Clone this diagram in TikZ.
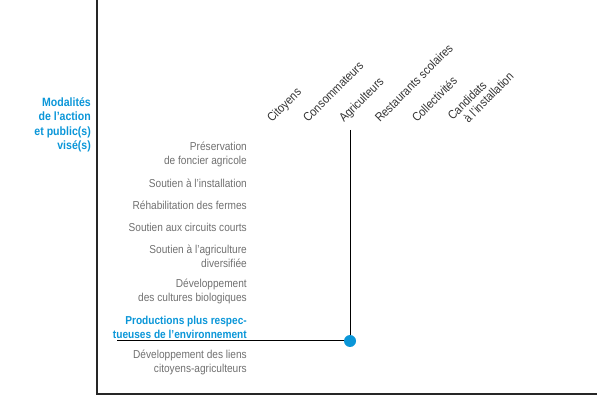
\documentclass[tikz,border=0pt]{standalone}
\usepackage{fontspec}
\setmainfont{Liberation Sans}[FakeStretch=0.88]
\usepackage{xcolor}
\usetikzlibrary{positioning}

\definecolor{accent}{HTML}{0A96D8}
\definecolor{rowgray}{HTML}{707070}
\definecolor{colgray}{HTML}{333333}

\begin{document}
\begin{tikzpicture}[x=1pt, y=-1pt,
    rowlabel/.style={anchor=east, align=right, inner sep=0pt, text=rowgray, font=\fontsize{11.5}{14}\selectfont},
    collabel/.style={anchor=base west, align=left, inner sep=0pt, rotate=45, text=colgray, font=\fontsize{12.3}{13}\selectfont},
    axis/.style={line width=1.5pt, black!85},
    link/.style={line width=1pt, black}
]
\useasboundingbox (0,0) rectangle (608,395);

% axes
\coordinate (O) at (97,394);
\draw[axis] (97,0) -- (O) -- (597,394);

% heading
\node[anchor=east, align=right, inner sep=0pt, text=accent, font=\bfseries\fontsize{12}{14.5}\selectfont] (H) at (91,125)
    {Modalités\\de l'action\\et public(s)\\visé(s)};

% rows
\node[rowlabel] (R1) at (247,154) {Préservation\\de foncier agricole};
\node[rowlabel] (R2) at (247,183) {Soutien à l'installation};
\node[rowlabel] (R3) at (247,205) {Réhabilitation des fermes};
\node[rowlabel] (R4) at (247,227) {Soutien aux circuits courts};
\node[rowlabel] (R5) at (247,256) {Soutien à l'agriculture\\diversifiée};
\node[rowlabel] (R6) at (247,291) {Développement\\des cultures biologiques};
\node[rowlabel, text=accent, font=\bfseries\fontsize{11.5}{14}\selectfont] (R7) at (247,327) {Productions plus respec-\\tueuses de l'environnement};
\node[rowlabel] (R8) at (247,362.5) {Développement des liens\\citoyens-agriculteurs};

% columns
\foreach \i/\x/\txt in {1/272/Citoyens, 2/308/Consommateurs, 3/344/Agriculteurs,
                        4/380/Restaurants scolaires, 5/417/Collectivités}
    \node[collabel] (C\i) at (\x,123) {\txt};
\node[collabel] (C6) at (462,130) {Candidats\\\hspace{9pt}à l'installation};

% crossing
\coordinate (top) at (350,130);
\coordinate (start) at (117,341);
\node[circle, fill=accent, inner sep=0pt, minimum size=12pt] (hit) at (350,341) {};
\draw[link] (top) -- (hit);
\draw[link] (start) -- (hit);
\end{tikzpicture}
\end{document}
